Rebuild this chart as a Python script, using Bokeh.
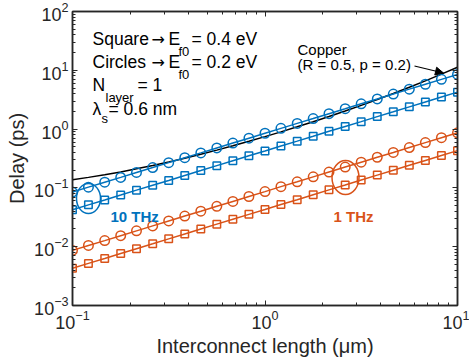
from bokeh.plotting import figure
from bokeh.models import LogAxis, FixedTicker, Arrow, NormalHead, CustomJSTickFormatter
from bokeh.core.properties import value
from bokeh.embed import file_html
from bokeh.resources import INLINE

# ---------------- data ----------------
length_um = [0.1, 0.121, 0.147, 0.178, 0.215, 0.261, 0.316, 0.383, 0.464, 0.562,
             0.681, 0.825, 1.0, 1.21, 1.47, 1.78, 2.15, 2.61, 3.16, 3.83,
             4.64, 5.62, 6.81, 8.25, 10.0]
# 10 THz, circles (E_f0 = 0.2 eV)
delay_circ_10thz = [0.085, 0.103, 0.125, 0.151, 0.183, 0.222, 0.269, 0.326, 0.394, 0.478,
                    0.579, 0.701, 0.85, 1.03, 1.25, 1.51, 1.83, 2.22, 2.69, 3.26,
                    3.95, 4.78, 5.79, 7.01, 8.5]
# 10 THz, squares (E_f0 = 0.4 eV)
delay_sq_10thz = [0.0425, 0.0515, 0.0624, 0.0756, 0.0916, 0.111, 0.134, 0.163, 0.197, 0.239,
                  0.290, 0.351, 0.425, 0.515, 0.624, 0.756, 0.916, 1.11, 1.34, 1.63,
                  1.97, 2.39, 2.90, 3.51, 4.25]
# 1 THz, circles
delay_circ_1thz = [0.00865, 0.0105, 0.0127, 0.0154, 0.0186, 0.0226, 0.0274, 0.0332, 0.0401, 0.0486,
                   0.0589, 0.0714, 0.0865, 0.105, 0.127, 0.154, 0.186, 0.226, 0.274, 0.332,
                   0.401, 0.486, 0.589, 0.714, 0.865]
# 1 THz, squares
delay_sq_1thz = [0.0043, 0.0052, 0.0063, 0.00765, 0.00926, 0.0112, 0.0136, 0.0165, 0.0200, 0.0242,
                 0.0293, 0.0355, 0.043, 0.0521, 0.0631, 0.0765, 0.0926, 0.112, 0.136, 0.165,
                 0.200, 0.242, 0.293, 0.355, 0.43]
# Copper (R = 0.5, p = 0.2)
delay_copper = [0.1375, 0.151, 0.167, 0.187, 0.211, 0.240, 0.276, 0.320, 0.373, 0.439,
                0.520, 0.621, 0.745, 0.898, 1.094, 1.337, 1.639, 2.034, 2.533, 3.183,
                4.028, 5.138, 6.616, 8.593, 11.275]

x_major = [0.1, 1, 10]
y_major = [1e-3, 1e-2, 1e-1, 1, 10, 100]

BLUE = "#0072BD"
ORANGE = "#D95319"
AX = "#262626"
FONT = "Liberation Sans"

# frame geometry in pixels (for placing annotations)
FX0, FX1, FY0, FY1 = 72, 457, 11, 305
W, H = 469, 362


def px2x(px):
    return 10 ** (-1 + 2.0 * (px - FX0) / (FX1 - FX0))


def px2y(py):
    return 10 ** (2 - 5.0 * (py - FY0) / (FY1 - FY0))


p = figure(width=W, height=H, x_axis_type="log", y_axis_type="log",
           x_range=(0.1, 10), y_range=(1e-3, 1e2),
           output_backend="svg", toolbar_location=None,
           min_border_left=FX0, min_border_right=W - FX1,
           min_border_top=FY0, min_border_bottom=H - FY1)
p.background_fill_color = "white"
p.border_fill_color = "white"
p.grid.visible = False
p.outline_line_color = AX
p.outline_line_width = 1.5

x_minor = [k * 10 ** e for e in (-1, 0) for k in range(2, 10)]
y_minor = [k * 10 ** e for e in range(-3, 2) for k in range(2, 10)]


def style_axis(ax, show_labels=True):
    ax.axis_line_color = AX
    ax.axis_line_width = 1.5
    ax.major_tick_line_color = AX
    ax.minor_tick_line_color = AX
    ax.major_tick_line_width = 1
    ax.minor_tick_line_width = 1
    ax.major_tick_in = 5
    ax.major_tick_out = 0
    ax.minor_tick_in = 3
    ax.minor_tick_out = 0
    ax.major_label_text_font = FONT
    ax.major_label_text_color = AX
    ax.major_label_text_font_size = "18px" if show_labels else "6px"
    ax.major_label_standoff = 4 if show_labels else 0
    ax.axis_label_text_font = FONT
    ax.axis_label_text_font_size = "20px"
    ax.axis_label_text_font_style = "normal"
    ax.axis_label_text_color = AX
    ax.axis_label_standoff = 3


p.xaxis.ticker = FixedTicker(ticks=x_major, minor_ticks=x_minor)
p.yaxis.ticker = FixedTicker(ticks=y_major, minor_ticks=y_minor)
style_axis(p.xaxis[0])
style_axis(p.yaxis[0])
p.xaxis.axis_label = "Interconnect length (μm)"
p.yaxis.axis_label = "Delay (ps)"

top_ax = LogAxis(ticker=FixedTicker(ticks=x_major, minor_ticks=x_minor),
                 formatter=CustomJSTickFormatter(code="return ''"))
style_axis(top_ax, show_labels=False)
p.add_layout(top_ax, "above")
right_ax = LogAxis(ticker=FixedTicker(ticks=y_major, minor_ticks=y_minor),
                   formatter=CustomJSTickFormatter(code="return ''"))
style_axis(right_ax, show_labels=False)
p.add_layout(right_ax, "right")

# ---------------- series ----------------
p.line(length_um, delay_copper, line_color="black", line_width=1.5)

for ys, col in ((delay_circ_10thz, BLUE), (delay_circ_1thz, ORANGE)):
    p.line(length_um, ys, line_color=col, line_width=1.5)
    p.scatter(length_um, ys, marker="circle", size=9.5, fill_color=None,
              line_color=col, line_width=1.5)
for ys, col in ((delay_sq_10thz, BLUE), (delay_sq_1thz, ORANGE)):
    p.line(length_um, ys, line_color=col, line_width=1.5)
    p.scatter(length_um, ys, marker="square", size=7.5, fill_color=None,
              line_color=col, line_width=1.5)

# ellipses marking the groups
p.ellipse(x=[px2x(88)], y=[px2y(198)], width=24, height=30,
          width_units="screen", height_units="screen",
          fill_color=None, line_color=BLUE, line_width=1.5)
p.ellipse(x=[px2x(345)], y=[px2y(177)], width=27, height=34,
          width_units="screen", height_units="screen",
          fill_color=None, line_color=ORANGE, line_width=1.5)


def txt(px, py, s, size="17.5px", color="black", style="normal", baseline="alphabetic",
        font=FONT):
    p.text(x=[px2x(px)], y=[px2y(py)], text=[s], text_font=value(font),
           text_font_size=size, text_color=color, text_font_style=style,
           text_align="left", text_baseline=baseline)


# legend-like text box
txt(92, 38.7, "Square")
txt(151, 38.7, "→", size="16px", font="DejaVu Sans")
txt(168, 38.7, "E")
txt(178, 51.0, "f0", size="13px")
txt(191, 38.7, "= 0.4 eV")
txt(92, 61.5, "Circles")
txt(151, 61.5, "→", size="16px", font="DejaVu Sans")
txt(168, 61.5, "E")
txt(178, 74.0, "f0", size="13px")
txt(191, 61.5, "= 0.2 eV")
txt(92, 84.0, "N")
txt(105, 96.5, "layer", size="13px")
txt(137, 84.0, "= 1")
txt(92, 108.0, "λ")
txt(101, 118.0, "s", size="13px")
txt(108, 108.0, "= 0.6 nm")

# frequency labels
txt(110, 215.7, "10 THz", size="15px", color=BLUE, style="bold", baseline="middle")
txt(333, 215.7, "1 THz", size="15px", color=ORANGE, style="bold", baseline="middle")

# copper annotation
txt(297, 48.5, "Copper", size="15px", baseline="middle")
txt(297, 64.0, "(R = 0.5, p = 0.2)", size="15px", baseline="middle")
p.add_layout(Arrow(end=NormalHead(size=8, fill_color="black", line_color="black"),
                   x_start=px2x(414), y_start=px2y(65.5),
                   x_end=px2x(443), y_end=px2y(72.5),
                   line_color="black", line_width=1.2))

open("out.html", "w").write(file_html(p, INLINE))
